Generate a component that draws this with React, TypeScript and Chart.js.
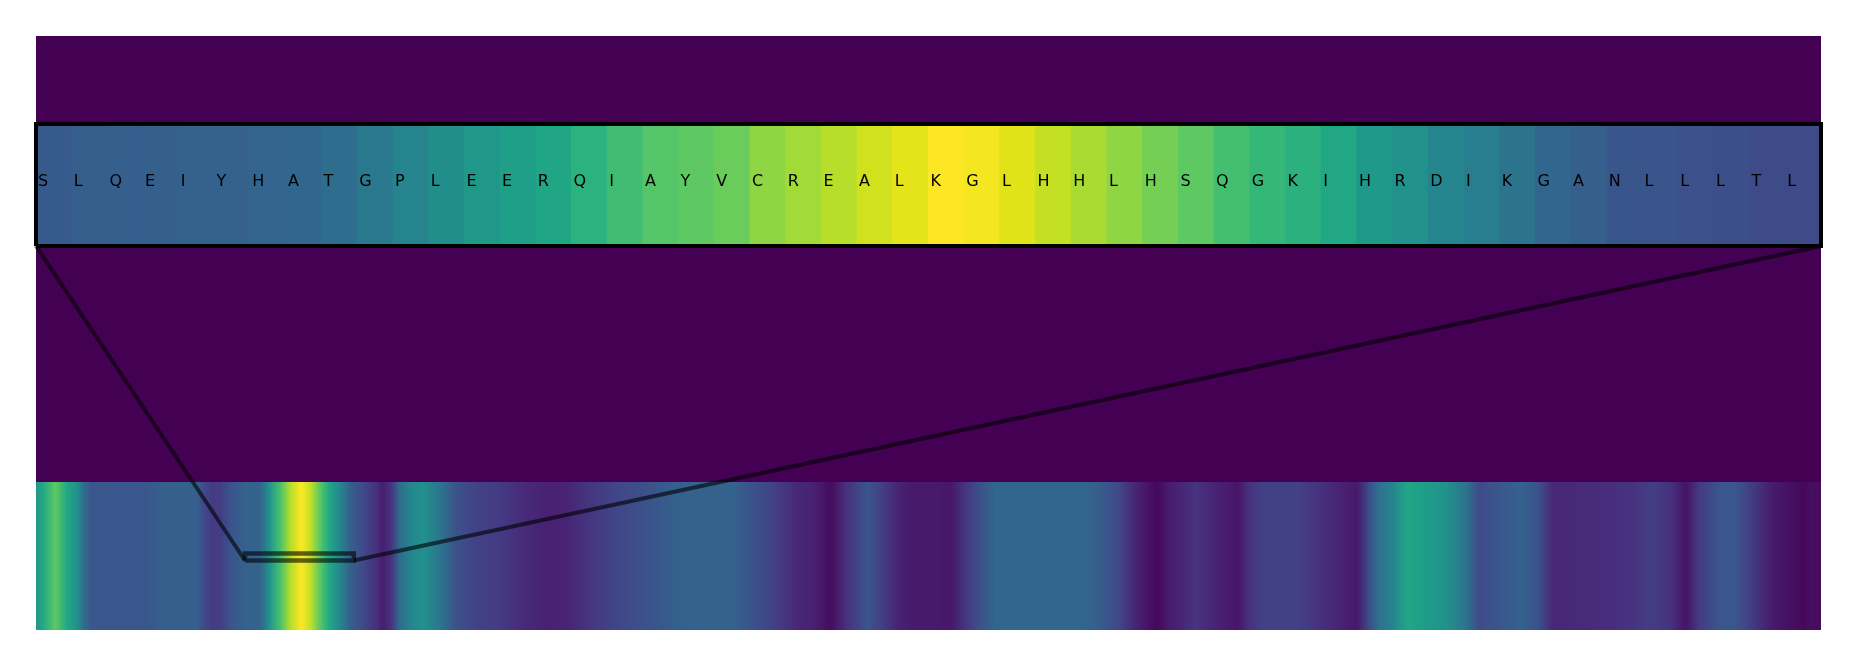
import React, { useEffect, useRef } from "react";
import { Chart, registerables } from "chart.js";

Chart.register(...registerables);

// ---------- data ----------
const TOP_LETTERS = [
  "S", "L", "Q", "E", "I", "Y", "H", "A", "T", "G",
  "P", "L", "E", "E", "R", "Q", "I", "A", "Y", "V",
  "C", "R", "E", "A", "L", "K", "G", "L", "H", "H",
  "L", "H", "S", "Q", "G", "K", "I", "H", "R", "D",
  "I", "K", "G", "A", "N", "L", "L", "L", "T", "L",
];

const TOP_VALUES = [
  0.28, 0.295, 0.3, 0.3, 0.31, 0.31, 0.32, 0.33, 0.355, 0.4,
  0.45, 0.49, 0.53, 0.56, 0.59, 0.64, 0.69, 0.73, 0.75, 0.77,
  0.83, 0.86, 0.89, 0.93, 0.96, 1.0, 0.985, 0.95, 0.91, 0.87,
  0.83, 0.79, 0.75, 0.7, 0.665, 0.635, 0.595, 0.54, 0.5, 0.455,
  0.425, 0.385, 0.33, 0.3, 0.265, 0.26, 0.245, 0.24, 0.23, 0.22,
];

const STRIP_LENGTH = 820;
const ZOOM_START = 96;
const ZOOM_END = 146;

const STRIP_POS = [
  0, 4, 9, 14, 19, 22, 26, 29, 51, 57, 74, 77, 81, 85, 89, 96, 103, 107, 112, 117,
  122, 126, 129, 132, 135, 140, 144, 150, 157, 159, 163, 167, 173, 178, 186, 193, 203, 209, 213, 224,
  235, 244, 255, 268, 281, 293, 304, 320, 329, 339, 350, 357, 365, 373, 382, 388, 397, 403, 415, 420,
  428, 434, 441, 480, 487, 497, 506, 515, 521, 527, 533, 541, 552, 558, 564, 579, 588, 598, 607, 613,
  617, 623, 630, 637, 648, 657, 663, 671, 682, 690, 697, 709, 724, 734, 743, 751, 758, 764, 774, 780,
  786, 798, 812, 816, 820,
];

const STRIP_VAL = [
  0.52, 0.62, 0.75, 0.6, 0.5, 0.35, 0.26, 0.27, 0.27, 0.3, 0.3, 0.22, 0.17, 0.18, 0.25, 0.31, 0.32, 0.5, 0.7, 0.89,
  1.0, 0.91, 0.8, 0.69, 0.59, 0.45, 0.31, 0.22, 0.13, 0.08, 0.14, 0.35, 0.47, 0.5, 0.38, 0.25, 0.19, 0.18, 0.17, 0.12,
  0.09, 0.1, 0.16, 0.21, 0.25, 0.3, 0.31, 0.31, 0.25, 0.19, 0.11, 0.09, 0.03, 0.15, 0.26, 0.19, 0.09, 0.07, 0.07, 0.06,
  0.17, 0.25, 0.33, 0.33, 0.3, 0.22, 0.09, 0.02, 0.08, 0.11, 0.15, 0.1, 0.06, 0.15, 0.19, 0.19, 0.15, 0.1, 0.07, 0.25,
  0.37, 0.45, 0.59, 0.56, 0.5, 0.38, 0.22, 0.26, 0.31, 0.25, 0.11, 0.12, 0.13, 0.15, 0.18, 0.14, 0.05, 0.17, 0.27, 0.27,
  0.2, 0.07, 0.02, 0.04, 0.03,
];

// ---------- colormap ----------
const VIRIDIS = [
  "#440154", "#471365", "#482475", "#463480", "#414487", "#3b528b", "#355f8d",
  "#2f6c8e", "#2a788e", "#25848e", "#21918c", "#1e9c89", "#22a884", "#2fb47c",
  "#44bf70", "#5ec962", "#7ad151", "#9bd93c", "#bddf26", "#dfe318", "#fde725",
];

function hexToRgb(h: string) {
  const n = parseInt(h.slice(1), 16);
  return [(n >> 16) & 255, (n >> 8) & 255, n & 255];
}

function viridis(t: number): string {
  const c = Math.max(0, Math.min(1, t)) * (VIRIDIS.length - 1);
  const i = Math.min(VIRIDIS.length - 2, Math.floor(c));
  const f = c - i;
  const a = hexToRgb(VIRIDIS[i]);
  const b = hexToRgb(VIRIDIS[i + 1]);
  const r = a.map((v, k) => Math.round(v + (b[k] - v) * f));
  return `rgb(${r[0]},${r[1]},${r[2]})`;
}

// ---------- layout (y units measured upward from plot bottom) ----------
const Y_MAX = 594;
const STRIP_TOP = 148;
const BOX_LOW = 384;
const BOX_HIGH = 506;
const RECT_LOW = 69.5;
const RECT_HIGH = 76.5;
const TEXT_Y = 444;
const TEXT_DX = 2;
const LINK_COLOR = "rgba(0,0,0,0.6)";

export default function App() {
  const ref = useRef<HTMLCanvasElement>(null);

  useEffect(() => {
    const canvas = ref.current!;
    const CELLS_INDEX = 3;

    const bgPlugin = {
      id: "bg",
      beforeDatasetsDraw(chart: any) {
        const { ctx, chartArea: a } = chart;
        ctx.save();
        ctx.fillStyle = viridis(0);
        ctx.fillRect(a.left, a.top, a.right - a.left, a.bottom - a.top);
        ctx.restore();
      },
    };

    const lettersPlugin = {
      id: "letters",
      afterDatasetDraw(chart: any, args: any) {
        if (args.index !== CELLS_INDEX) return;
        const { ctx } = chart;
        const x2 = chart.scales.x2;
        const half = (x2.getPixelForValue(1) - x2.getPixelForValue(0)) / 2;
        const y = chart.scales.y.getPixelForValue(TEXT_Y);
        ctx.save();
        ctx.font = '16px "DejaVu Sans"';
        ctx.fillStyle = "#000";
        ctx.textAlign = "left";
        ctx.textBaseline = "alphabetic";
        TOP_LETTERS.forEach((l, i) => {
          ctx.fillText(l, x2.getPixelForValue(i) - half + TEXT_DX, y);
        });
        ctx.restore();
      },
    };

    const lineBase = {
      type: "line" as const,
      xAxisID: "x",
      yAxisID: "y",
      pointRadius: 0,
      fill: false,
      clip: false as any,
      tension: 0,
    };

    const chart = new Chart(canvas, {
      type: "bar",
      data: {
        datasets: [
          {
            ...lineBase,
            order: 0,
            data: [
              { x: 0, y: BOX_LOW },
              { x: ZOOM_START, y: RECT_LOW },
            ],
            borderColor: LINK_COLOR,
            borderWidth: 4,
          } as any,
          {
            ...lineBase,
            order: 0,
            data: [
              { x: STRIP_LENGTH, y: BOX_LOW },
              { x: ZOOM_END, y: RECT_LOW },
            ],
            borderColor: LINK_COLOR,
            borderWidth: 4,
          } as any,
          {
            ...lineBase,
            order: 1,
            data: [
              { x: ZOOM_START, y: RECT_LOW },
              { x: ZOOM_END, y: RECT_LOW },
              { x: ZOOM_END, y: RECT_HIGH },
              { x: ZOOM_START, y: RECT_HIGH },
              { x: ZOOM_START, y: RECT_LOW },
            ],
            borderColor: LINK_COLOR,
            borderWidth: 4.5,
            borderJoinStyle: "miter",
          } as any,
          {
            type: "bar",
            order: 3,
            xAxisID: "x2",
            yAxisID: "y",
            data: TOP_VALUES.map(() => [BOX_LOW, BOX_HIGH]),
            backgroundColor: TOP_VALUES.map((v) => viridis(v)),
            borderWidth: 0,
            grouped: false,
            barPercentage: 1,
            categoryPercentage: 1,
            inflateAmount: 0.5,
          } as any,
          {
            ...lineBase,
            order: 2,
            data: [
              { x: 0, y: BOX_LOW },
              { x: STRIP_LENGTH, y: BOX_LOW },
              { x: STRIP_LENGTH, y: BOX_HIGH },
              { x: 0, y: BOX_HIGH },
              { x: 0, y: BOX_LOW },
            ],
            borderColor: "#000",
            borderWidth: 4,
            borderJoinStyle: "miter",
          } as any,
          {
            ...lineBase,
            order: 4,
            data: STRIP_POS.map((p) => ({ x: p, y: STRIP_TOP })),
            borderWidth: 0,
            borderColor: "rgba(0,0,0,0)",
            fill: "origin",
            backgroundColor: (ctx: any) => {
              const ch = ctx.chart;
              const a = ch.chartArea;
              if (!a) return viridis(0);
              const xs = ch.scales.x;
              const g = ch.ctx.createLinearGradient(a.left, 0, a.right, 0);
              const w = a.right - a.left;
              STRIP_POS.forEach((p, i) => {
                const t = (xs.getPixelForValue(p) - a.left) / w;
                g.addColorStop(Math.max(0, Math.min(1, t)), viridis(STRIP_VAL[i]));
              });
              return g;
            },
          } as any,
        ],
      },
      options: {
        responsive: false,
        devicePixelRatio: 1,
        animation: false,
        events: [],
        layout: { padding: { left: 36, right: 36, top: 36, bottom: 37 } },
        plugins: {
          legend: { display: false },
          tooltip: { enabled: false },
        },
        scales: {
          x: { type: "linear", min: 0, max: STRIP_LENGTH, display: false, offset: false },
          x2: { type: "category", labels: TOP_LETTERS, display: false, offset: true },
          y: { type: "linear", min: 0, max: Y_MAX, display: false },
        },
      } as any,
      plugins: [bgPlugin, lettersPlugin],
    });

    return () => chart.destroy();
  }, []);

  return (
    <div style={{ position: "fixed", left: 0, top: 0, width: 1857, height: 667, background: "#fff" }}>
      <canvas ref={ref} width={1857} height={667} style={{ display: "block", width: 1857, height: 667 }} />
    </div>
  );
}
